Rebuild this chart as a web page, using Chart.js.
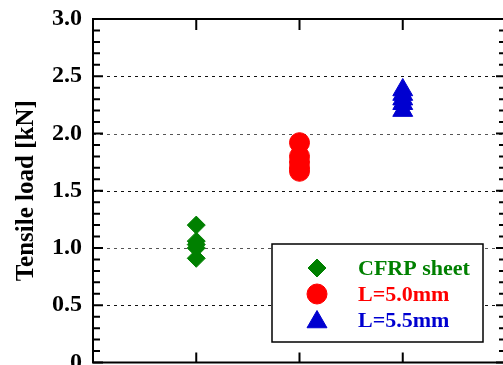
<!DOCTYPE html>
<html>
<head>
<meta charset="utf-8">
<script src="https://cdn.jsdelivr.net/npm/chart.js@4"></script>
<style>
  html, body { margin: 0; padding: 0; background: #fff; overflow: hidden; }
  #wrap { width: 503px; height: 365px; overflow: hidden; position: relative; }
  #c { position: absolute; left: 0; top: 0; display: block; }
</style>
</head>
<body>
<div id="wrap"><canvas id="c" width="520" height="365" style="width:520px;height:365px"></canvas></div>
<script>
// ---- data ----
const categories = ["CFRP sheet", "L=5.0mm", "L=5.5mm"];
const categoryPositions = [1, 2, 3];
const cfrpValues = [1.20, 1.06, 1.03, 1.00, 0.91];
const l50Values  = [1.92, 1.80, 1.75, 1.70, 1.67];
const l55Values  = [2.38, 2.34, 2.30, 2.26, 2.20];
const yTickValues = [0, 0.5, 1.0, 1.5, 2.0, 2.5, 3.0];
const yTickLabels = ["0", "0.5", "1.0", "1.5", "2.0", "2.5", "3.0"];
const yTitle = "Tensile load [kN]";

const seriesColors = ["#008000", "#ff0000", "#0000d0"];
const seriesStyles = ["rectRot", "circle", "triangle"];
const seriesRadius = [9, 10, 11.5];
const seriesValues = [cfrpValues, l50Values, l55Values];

const serif = "'Liberation Serif', 'Times New Roman', serif";

const framePlugin = {
  id: 'frame',
  beforeDatasetsDraw(chart) {
    const {ctx, chartArea: a, scales: {y}} = chart;
    ctx.save();
    ctx.lineWidth = 1.2;
    ctx.setLineDash([3, 4]);
    yTickValues.forEach((v, i) => {
      if (v === 0 || v === 3.0) return;
      const py = Math.round(y.getPixelForValue(v)) + 0.5;
      ctx.strokeStyle = (i % 2 === 0) ? '#555' : '#111';
      ctx.beginPath();
      ctx.moveTo(a.left, py);
      ctx.lineTo(a.right, py);
      ctx.stroke();
    });
    ctx.restore();
  },
  afterDatasetsDraw(chart) {
    const {ctx, chartArea: a, scales: {x, y}} = chart;
    ctx.save();
    ctx.strokeStyle = '#000';
    ctx.lineWidth = 2;
    ctx.setLineDash([]);
    ctx.strokeRect(a.left, a.top, a.right - a.left, a.bottom - a.top);
    for (let k = 0; k <= 30; k++) {
      const v = k / 10;
      const py = y.getPixelForValue(v);
      const len = (k % 5 === 0) ? 10 : 7;
      ctx.beginPath();
      ctx.moveTo(a.left, py); ctx.lineTo(a.left + len, py);
      ctx.moveTo(a.right, py); ctx.lineTo(a.right - len, py);
      ctx.stroke();
    }
    categoryPositions.forEach(c => {
      const px = x.getPixelForValue(c);
      ctx.beginPath();
      ctx.moveTo(px, a.bottom); ctx.lineTo(px, a.bottom - 10);
      ctx.moveTo(px, a.top); ctx.lineTo(px, a.top + 11);
      ctx.stroke();
    });
    ctx.restore();
  },
  afterDraw(chart) {
    const {ctx} = chart;
    ctx.save();
    const bx = 272, by = 244, bw = 211, bh = 98;
    ctx.fillStyle = '#fff';
    ctx.fillRect(bx, by, bw, bh);
    ctx.strokeStyle = '#000';
    ctx.lineWidth = 1.5;
    ctx.strokeRect(bx, by, bw, bh);
    const rows = [268, 294, 320];
    chart.data.datasets.forEach((ds, i) => {
      const ry = rows[i];
      ctx.fillStyle = ds.backgroundColor;
      ctx.strokeStyle = ds.borderColor;
      ctx.lineWidth = 1;
      Chart.helpers.drawPoint(ctx, {pointStyle: ds.pointStyle, radius: ds.pointRadius, borderWidth: 1}, 317, ry + (i === 2 ? 2 : 0));
      ctx.fillStyle = ds.backgroundColor;
      ctx.font = "bold 22px " + serif;
      ctx.textAlign = 'left';
      ctx.textBaseline = 'middle';
      ctx.fillText(ds.label, 358, ry + 1);
    });
    ctx.restore();
  }
};

const datasets = categories.map((name, i) => ({
  label: name,
  data: seriesValues[i].map(v => ({x: categoryPositions[i], y: v})),
  pointStyle: seriesStyles[i],
  pointRadius: seriesRadius[i],
  pointHoverRadius: seriesRadius[i],
  backgroundColor: seriesColors[i],
  borderColor: seriesColors[i],
  borderWidth: 1,
  showLine: false
}));

new Chart(document.getElementById('c'), {
  type: 'scatter',
  data: { datasets },
  options: {
    responsive: false,
    maintainAspectRatio: false,
    devicePixelRatio: 1,
    animation: false,
    events: [],
    layout: { autoPadding: false, padding: { left: 0, top: 19, right: 14, bottom: 2.5 } },
    plugins: { legend: { display: false }, tooltip: { enabled: false } },
    scales: {
      x: {
        type: 'linear', min: 0, max: 4, display: false
      },
      y: {
        type: 'linear', min: 0, max: 3.0,
        afterBuildTicks(scale) { scale.ticks = yTickValues.map(v => ({value: v})); },
        afterFit(scale) { scale.width = 93; scale.paddingTop = 0; scale.paddingBottom = 0; },
        grid: { display: false, drawTicks: true, tickLength: 11, tickColor: 'rgba(0,0,0,0)' },
        border: { display: false },
        ticks: {
          padding: 0,
          color: '#000',
          font: { family: serif, size: 24, weight: 'bold', lineHeight: 0.2 },
          callback(value) {
            const idx = yTickValues.indexOf(value);
            return idx >= 0 ? yTickLabels[idx] : '';
          }
        },
        title: {
          display: true,
          text: yTitle,
          color: '#000',
          font: { family: serif, size: 25, weight: 'bold' },
          padding: { top: 12, bottom: 0 }
        }
      }
    }
  },
  plugins: [framePlugin]
});
</script>
</body>
</html>
